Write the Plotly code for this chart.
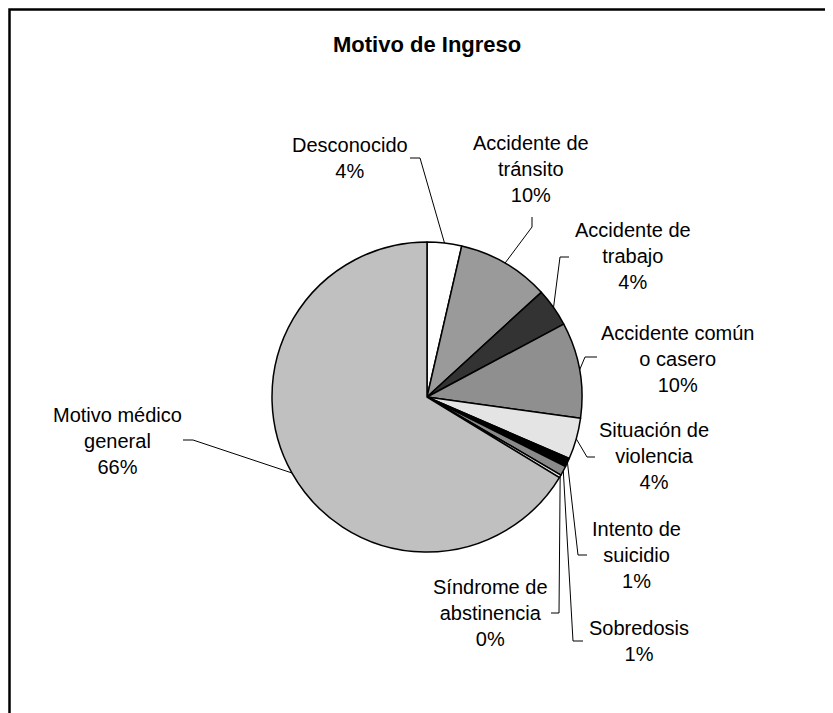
import math
import plotly.graph_objects as go

# datos (porcentajes aproximados)
motivos = ["Desconocido", "Accidente de tránsito", "Accidente de trabajo",
           "Accidente común o casero", "Situación de violencia", "Intento de suicidio",
           "Sobredosis", "Síndrome de abstinencia", "Motivo médico general"]
etiquetas = ["Desconocido", "Accidente de<br>tránsito", "Accidente de<br>trabajo",
             "Accidente común<br>o casero", "Situación de<br>violencia", "Intento de<br>suicidio",
             "Sobredosis", "Síndrome de<br>abstinencia", "Motivo médico<br>general"]
valores = [3.6, 9.6, 4.0, 10.0, 4.3, 0.9, 1.0, 0.3, 66.3]

colores = ["#ffffff", "#9a9a9a", "#333333", "#8f8f8f", "#e4e4e4",
           "#000000", "#8a8a8a", "#e8e8e8", "#c0c0c0"]

# geometria en pixeles de pantalla (el body tiene 8px de margen)
OFF = 8
W, H = 833 - OFF, 713 - OFF
cx, cy, R = 427, 397, 155
pos_texto = [(350, 158), (531, 169), (633, 256), (677, 359), (654, 456),
             (636, 555), (639, 641), (490, 613), (117, 441)]
codos = [(420, 158), (532, 227), (560, 257), (585, 357), (587, 457),
         (578, 555), (573, 641), (559, 613), (193, 440)]
finales = [(410, 158), (532, 217), (569, 257), (597, 357), (595, 457),
           (587, 555), (583, 641), (551, 613), (183, 440)]

fuente = "Liberation Sans, Arial, sans-serif"
total = sum(valores)

fig = go.Figure()

# lineas guia
acum = 0
for i, v in enumerate(valores):
    ang = math.radians((acum + v / 2) / total * 360)
    acum += v
    ex = cx + R * math.sin(ang)
    ey = cy - R * math.cos(ang)
    fig.add_trace(go.Scatter(x=[ex, codos[i][0], finales[i][0]],
                             y=[ey, codos[i][1], finales[i][1]],
                             mode="lines", line=dict(color="black", width=1),
                             hoverinfo="skip", showlegend=False))
    pct = round(v / total * 100)
    fig.add_annotation(x=pos_texto[i][0], y=pos_texto[i][1],
                       text=f"{etiquetas[i]}<br>{pct}%", showarrow=False,
                       xanchor="center", yanchor="middle", align="center",
                       font=dict(family=fuente, size=20, color="black"))

px0, py0 = cx - OFF, cy - OFF
fig.add_trace(go.Pie(
    labels=motivos, values=valores, sort=False, direction="clockwise", rotation=0,
    marker=dict(colors=colores, line=dict(color="black", width=1.5)),
    textinfo="none", hoverinfo="label+percent", showlegend=False,
    domain=dict(x=[(px0 - R) / W, (px0 + R) / W],
                y=[(H - py0 - R) / H, (H - py0 + R) / H])))

fig.add_annotation(x=427, y=44, text="<b>Motivo de Ingreso</b>", showarrow=False,
                   xanchor="center", yanchor="middle",
                   font=dict(family=fuente, size=22, color="black"))

# marco
fig.add_shape(type="rect", xref="x", yref="y", x0=9.5, y0=9.5, x1=900, y1=800,
              line=dict(color="black", width=2.5))

fig.update_xaxes(range=[OFF, OFF + W], visible=False, fixedrange=True)
fig.update_yaxes(range=[OFF + H, OFF], visible=False, fixedrange=True)
fig.update_layout(width=W, height=H, margin=dict(l=0, r=0, t=0, b=0),
                  paper_bgcolor="white", plot_bgcolor="white", showlegend=False)

fig.write_html("out.html")
